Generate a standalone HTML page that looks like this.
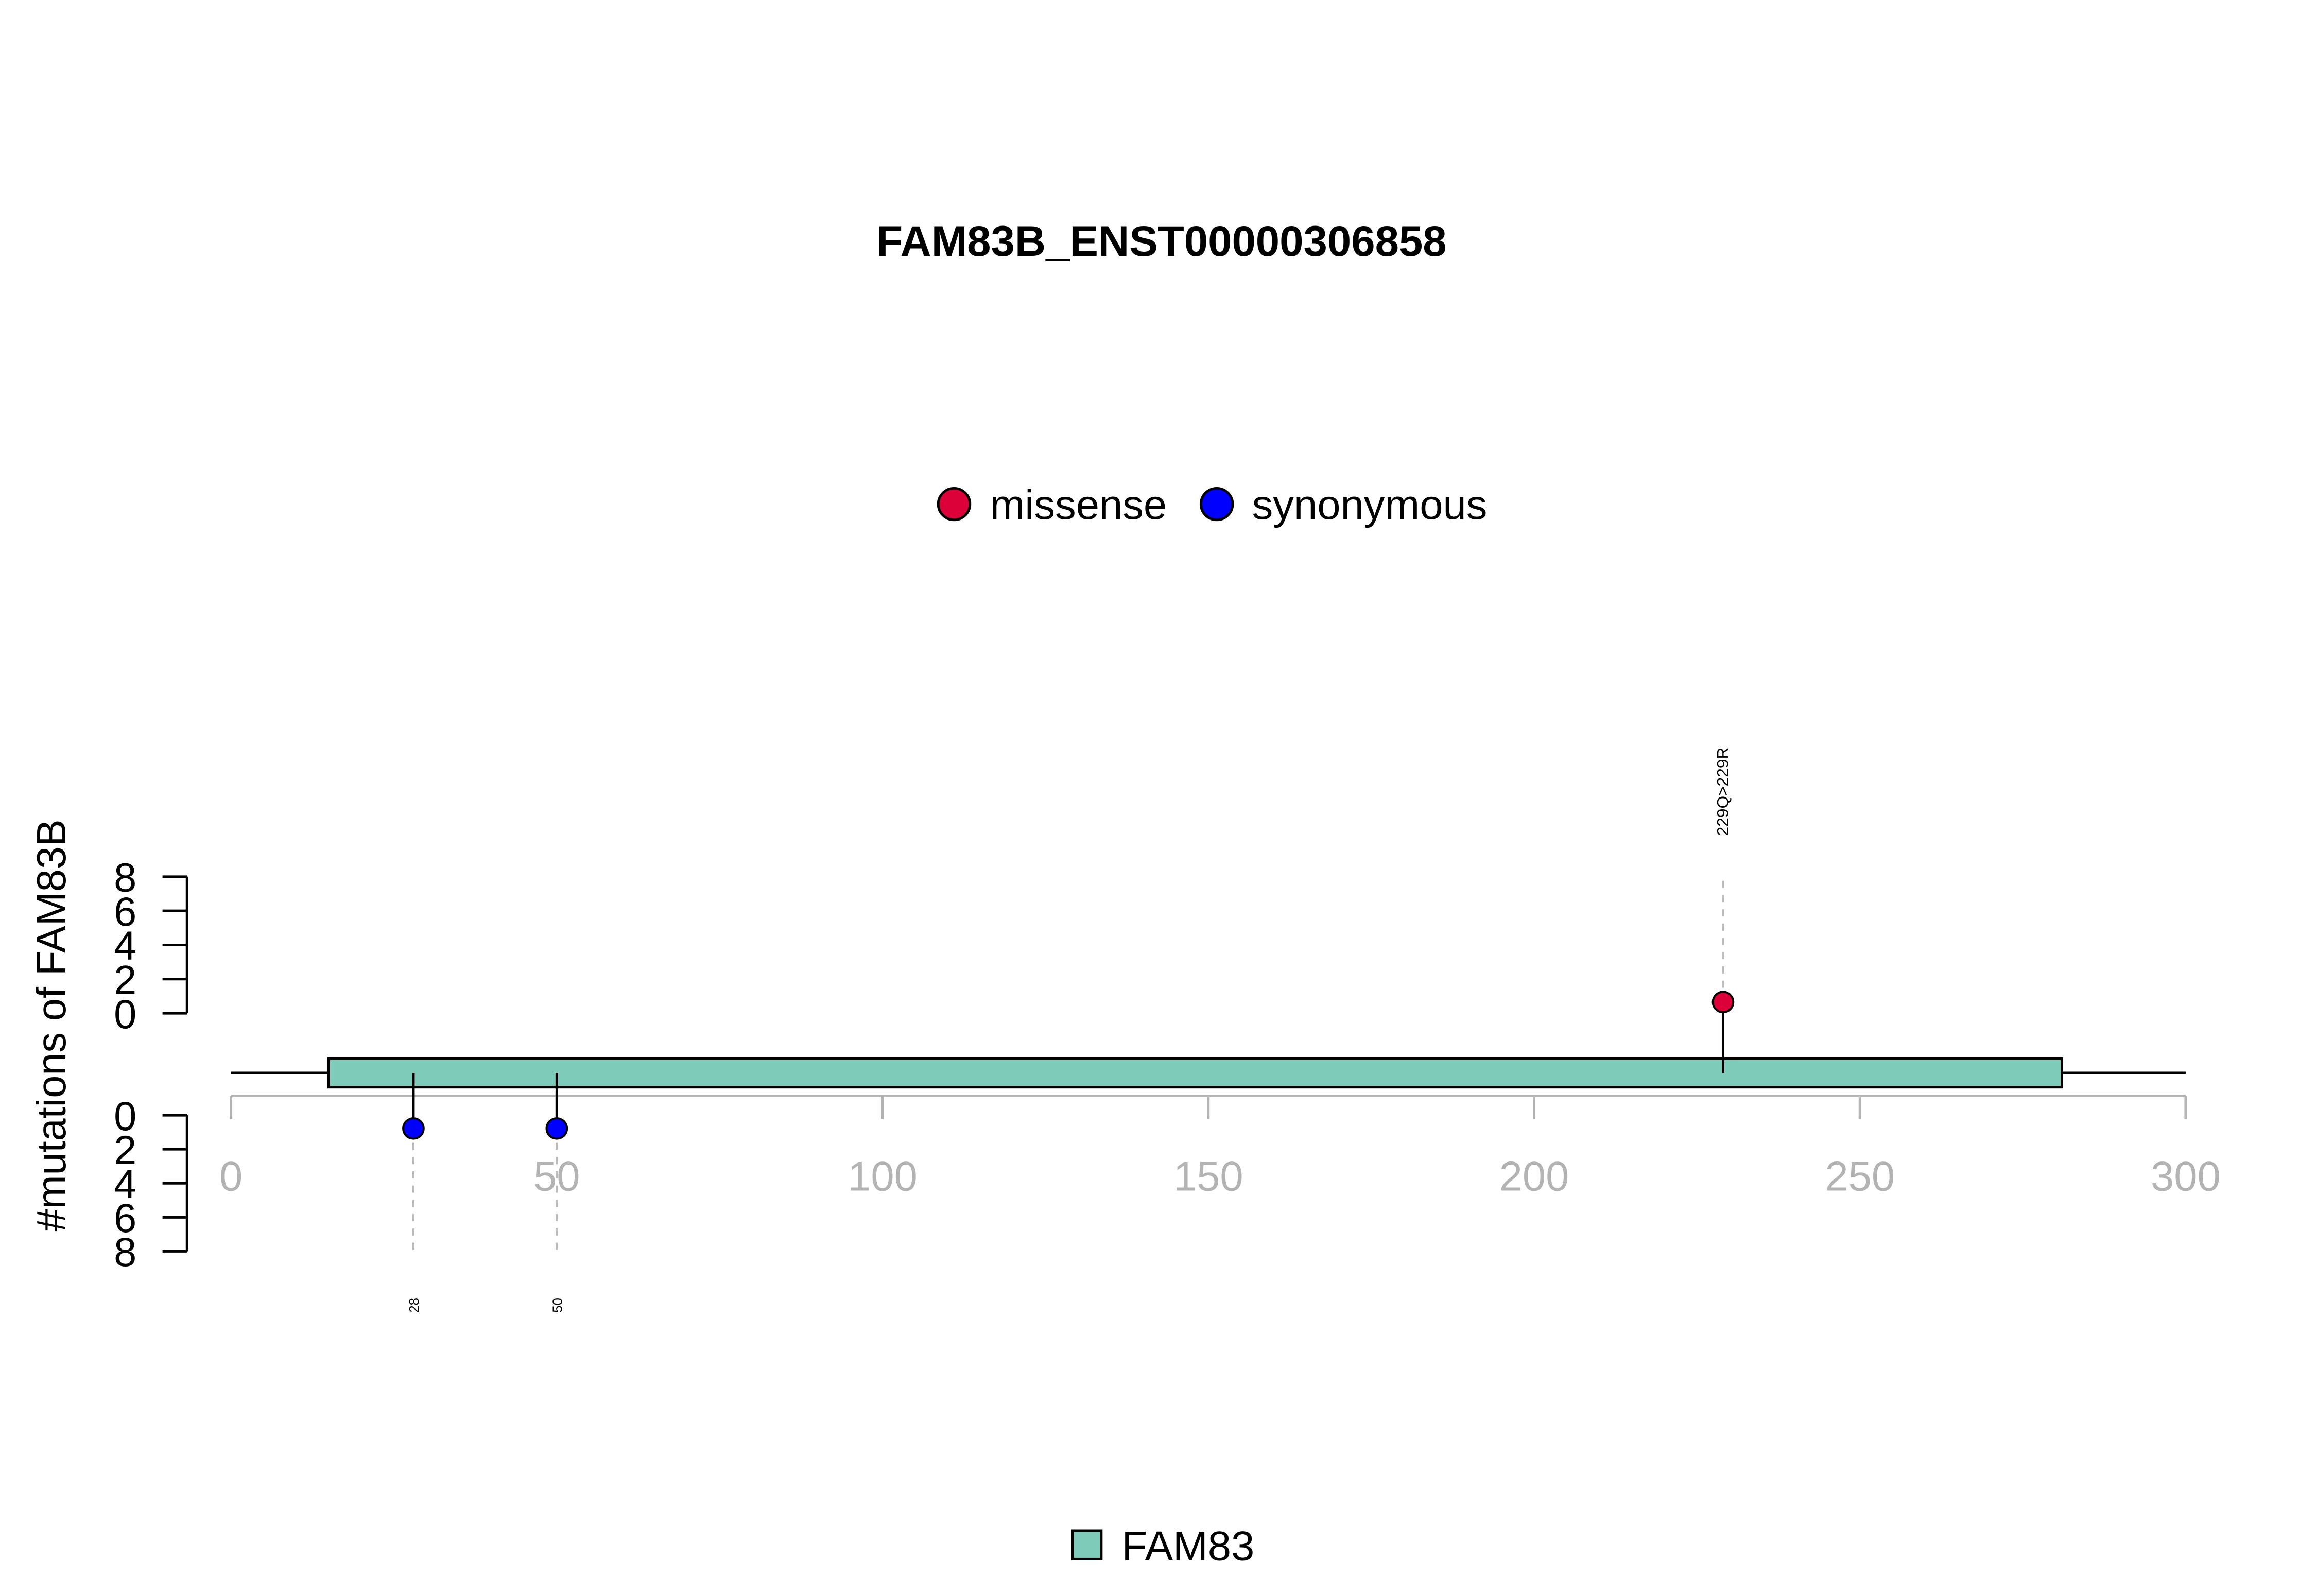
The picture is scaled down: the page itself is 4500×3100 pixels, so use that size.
<!DOCTYPE html>
<html><head><meta charset="utf-8"><style>html,body{margin:0;padding:0;background:#fff}svg{display:block}text{font-family:"Liberation Sans",Arial,sans-serif}</style></head>
<body>
<svg id="chart" width="4500" height="3100" viewBox="0 0 4500 3100" xmlns="http://www.w3.org/2000/svg">
<rect width="4500" height="3100" fill="#fff"/>
<g transform="scale(0.9925,0.99)">
<text x="2273" y="502" font-size="84" font-weight="bold" text-anchor="middle">FAM83B_ENST00000306858</text>
<g>
<circle cx="1867" cy="989" r="31" fill="#dc0139" stroke="#000" stroke-width="5"/>
<text x="1937" y="1018" font-size="82">missense</text>
<circle cx="2381" cy="989" r="31" fill="#0000ff" stroke="#000" stroke-width="5"/>
<text x="2450" y="1018" font-size="82">synonymous</text>
</g>
<text transform="translate(128,2012) rotate(-90)" font-size="80" text-anchor="middle">#mutations of FAM83B</text>
<g id="yaxes"></g>
<g id="xaxis"></g>
<g id="protein"></g>
<g id="muts"></g>
<g>
<rect x="2099" y="3003" width="56" height="56" fill="#7fcbba" stroke="#000" stroke-width="5"/>
<text x="2195" y="3061" font-size="82">FAM83</text>
</g>
</g>
</svg>
<script>
const xTicks = [0, 50, 100, 150, 200, 250, 300];
const yTicks = [0, 2, 4, 6, 8];
const proteinLength = 300;
const domainNames = ["FAM83"];
const domainStart = [15];
const domainEnd = [281];
const mutPos = [229, 28, 50];
const mutCount = [1, 1, 1];
const mutType = ["missense", "synonymous", "synonymous"];
const mutLabel = ["229Q>229R", "28", "50"];
const colors = {missense: "#dc0139", synonymous: "#0000ff"};

const NS = "http://www.w3.org/2000/svg";
const X0 = 452, X1 = 4277;
const xs = v => X0 + (X1 - X0) * v / proteinLength;
const upY = c => 1988 - (1988 - 1720) * c / 8;
const dnY = c => 2188 + (2455 - 2188) * c / 8;
const dotUp = c => 1966 - (c - 1) * 33.5;
const dotDn = c => 2214 + (c - 1) * 33.5;
function mk(tag, attrs, parent) {
  const e = document.createElementNS(NS, tag);
  for (const k in attrs) e.setAttribute(k, attrs[k]);
  parent.appendChild(e);
  return e;
}
const ya = document.getElementById('yaxes');
[[upY, 'upper'], [dnY, 'lower']].forEach(([f, nm]) => {
  const l = mk('line', {x1: 366, x2: 366, y1: f(0), y2: f(8), stroke: '#000', 'stroke-width': 5}, ya);
  
  
  yTicks.forEach(t => {
    const tk = mk('line', {x1: 318, x2: 366, y1: f(t), y2: f(t), stroke: '#000', 'stroke-width': 5}, ya);
    
    
    const tx = mk('text', {x: 245, y: f(t) + 29, 'font-size': 80, 'text-anchor': 'middle'}, ya);
    tx.textContent = t;
    
    
  });
});
const xa = document.getElementById('xaxis');
const al = mk('line', {x1: xs(0), x2: xs(proteinLength), y1: 2150, y2: 2150, stroke: '#b3b3b3', 'stroke-width': 5}, xa);


xTicks.forEach(t => {
  const tk = mk('line', {x1: xs(t), x2: xs(t), y1: 2150, y2: 2196, stroke: '#b3b3b3', 'stroke-width': 5}, xa);
  
  
  const tx = mk('text', {x: xs(t), y: 2336, 'font-size': 82, 'text-anchor': 'middle', fill: '#b3b3b3'}, xa);
  tx.textContent = t;
  
  
});
const pr = document.getElementById('protein');
const bb = mk('line', {x1: xs(0), x2: xs(proteinLength), y1: 2105, y2: 2105, stroke: '#000', 'stroke-width': 5}, pr);


domainNames.forEach((d, i) => {
  const r = mk('rect', {x: xs(domainStart[i]), y: 2077, width: xs(domainEnd[i]) - xs(domainStart[i]), height: 56, fill: '#7fcbba', stroke: '#000', 'stroke-width': 5}, pr);
  
  
});
const mg = document.getElementById('muts');
mutPos.forEach((p, i) => {
  const x = xs(p);
  const up = mutType[i] === 'missense';
  const dy = up ? dotUp(mutCount[i]) : dotDn(mutCount[i]);
  const dashEnd = up ? upY(8) : dnY(8);
  const ds = mk('line', {x1: x, x2: x, y1: dy, y2: dashEnd, stroke: '#bbbbbb', 'stroke-width': 4, 'stroke-dasharray': '14 14'}, mg);
  
  
  const st = mk('line', {x1: x, x2: x, y1: 2105, y2: dy, stroke: '#000', 'stroke-width': 5}, mg);
  
  
  const c = mk('circle', {cx: x, cy: dy, r: 20, fill: colors[mutType[i]], stroke: '#000', 'stroke-width': 4}, mg);
  
  
  const ly = up ? 1553 : 2561;
  const t = mk('text', {transform: 'translate(' + (x + 10) + ',' + ly + ') rotate(-90)', 'font-size': up ? 32 : 26, 'text-anchor': 'middle'}, mg);
  t.textContent = mutLabel[i];
  
  
});
</script>
</body></html>
